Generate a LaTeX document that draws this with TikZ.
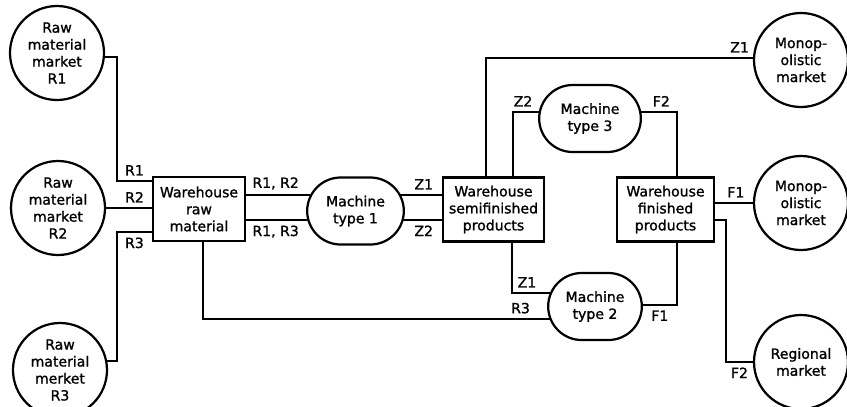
\documentclass[tikz,border=0pt]{standalone}
\usepackage{fontspec}
\setmainfont{DejaVu Sans}
\newfontfamily\scanfont{DejaVu Sans}[FakeBold=1.2]
\usetikzlibrary{shapes.misc,backgrounds}

\begin{document}
\begin{tikzpicture}[x=0.03cm,y=-0.03cm,
		n/.style={draw,line width=1.9pt,fill=white,align=center,font=\scanfont\fontsize{12}{14.5}\selectfont},
		mkt/.style={n,circle,minimum size=2.82cm,inner sep=0pt},
		store/.style={n,rectangle,minimum height=1.92cm,inner sep=1pt},
		mach/.style={n,rounded rectangle,minimum height=2.01cm,inner sep=1pt},
		e/.style={line width=1.5pt},
		lbl/.style={inner sep=4pt,font=\scanfont\fontsize{12}{13}\selectfont}
		]
		\useasboundingbox (0,0) rectangle (847,406);

		% markets for raw material
		\node[mkt] (r1) at (57,53) {Raw\\material\\market\\R1};
		\node[mkt] (r2) at (58,208) {Raw\\material\\market\\R2};
		\node[mkt] (r3) at (60,370) {Raw\\material\\merket\\R3};

		% stores and machines
		\node[store,minimum width=2.76cm] (wr) at (199,209) {Warehouse\\raw\\material};
		\node[mach,minimum width=2.97cm] (m1) at (355.5,211) {Machine\\type 1};
		\node[store,minimum width=3.03cm] (ws) at (493.5,209.5) {Warehouse\\semifinished\\products};
		\node[mach,minimum width=3.12cm] (m3) at (590,118.5) {Machine\\type 3};
		\node[mach,minimum width=2.88cm] (m2) at (595,306.5) {Machine\\type 2};
		\node[store,minimum width=2.91cm] (wf) at (665.5,209.5) {Warehouse\\finished\\products};

		% sales markets
		\node[mkt] (mo1) at (801,60) {Monop-\\olistic\\market};
		\node[mkt] (mo2) at (801,203) {Monop-\\olistic\\market};
		\node[mkt] (reg) at (801,362) {Regional\\market};

		% bends of the lines
		\coordinate (k1) at (117,181);
		\coordinate (k3) at (117,232);
		\coordinate (k4) at (203,319);
		\coordinate (ka) at (0,195);
		\coordinate (kb) at (0,220);
		\coordinate (k7) at (486,58);
		\coordinate (k8) at (513,112);
		\coordinate (k9) at (512,293);
		\coordinate (k10) at (677,112);
		\coordinate (k11) at (677,305);
		\coordinate (k13) at (726,220);

		\begin{scope}[on background layer]
			\draw[e] (r1.-5) -| (k1) -- node[lbl,above]{R1} (k1 -| wr.west);
			\draw[e] (r2.east) -- node[lbl,above,pos=0.62]{R2} (r2.east -| wr.west);
			\draw[e] (k3 -| wr.west) -- node[lbl,below]{R3} (k3) |- (r3.11);
			\draw[e] (wr.south -| k4) -- (k4) -- node[lbl,above,pos=0.81]{R3} (k4 -| m2);

			\draw[e] (wr.east |- ka) -- node[lbl,above,pos=0.27]{R1, R2} (m1 |- ka);
			\draw[e] (wr.east |- kb) -- node[lbl,below,pos=0.27]{R1, R3} (m1 |- kb);
			\draw[e] (m1 |- ka) -- node[lbl,above,pos=0.79]{Z1} (ws.west |- ka);
			\draw[e] (m1 |- kb) -- node[lbl,below,pos=0.79]{Z2} (ws.west |- kb);

			\draw[e] (ws.north -| k7) -- (k7) -- node[lbl,above,pos=0.95]{Z1} (k7 -| mo1.west);
			\draw[e] (ws.north -| k8) -- (k8) -- node[lbl,above,pos=0.13]{Z2} (k8 -| m3);
			\draw[e] (ws.south -| k9) -- (k9) -- node[lbl,above,pos=0.18]{Z1} (k9 -| m2);

			\draw[e] (m3 |- k10) -- node[lbl,above,pos=0.82]{F2} (k10) -- (wf.north -| k10);
			\draw[e] (m2 |- k11) -- node[lbl,below,pos=0.79]{F1} (k11) -- (wf.south -| k11);
			\draw[e] (wf.east |- mo2.west) -- node[lbl,above,pos=0.55]{F1} (mo2.west);
			\draw[e] (k13 -| wf.east) -- (k13) |- node[lbl,below,pos=0.75]{F2} (reg.west);
		\end{scope}
	\end{tikzpicture}
\end{document}
